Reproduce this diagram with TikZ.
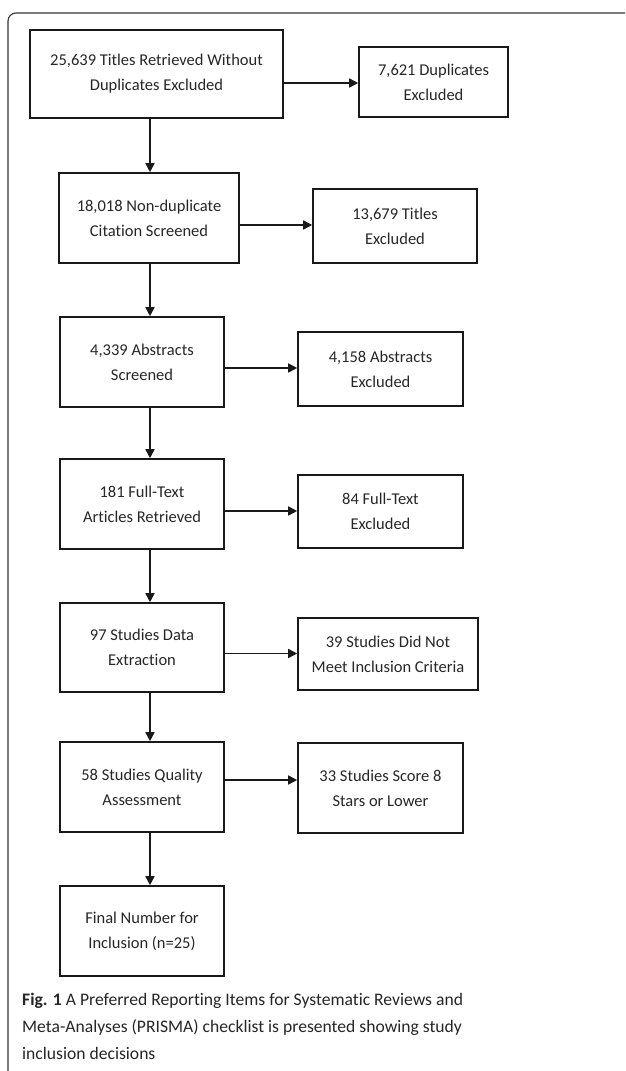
\documentclass[tikz,border=0pt]{standalone}
\usepackage{fontspec}
\setmainfont[Ligatures=NoCommon]{Carlito}
\usetikzlibrary{arrows.meta}
\begin{document}
\begin{tikzpicture}[x=1pt,y=-1pt,
  box/.style={draw=black!90,line width=1.6pt,inner sep=0pt,align=center,
    font=\fontsize{16.5}{25}\selectfont,text=black!85},
  arr/.style={line width=1.6pt,draw=black!90,-{Triangle[length=9pt,width=9pt]}},
  frame/.style={draw=black!80,line width=1.1pt,rounded corners=8pt}]
\useasboundingbox (0,0) rectangle (625,1071);
\draw[frame] (8,1071) -- (8,13) -- (625,13);
\coordinate (col) at (150,0);
\node[box,minimum width=253pt,minimum height=88pt] (b1) at (156.5,74) {25,639 Titles Retrieved Without\\Duplicates Excluded};
\node[box,minimum width=149pt,minimum height=70pt] (b2) at (433.5,82) {7,621 Duplicates\\Excluded};
\node[box,minimum width=180pt,minimum height=90pt] (b3) at (149,218) {18,018 Non-duplicate\\Citation Screened};
\node[box,minimum width=164pt,minimum height=74pt] (b4) at (395,226) {13,679 Titles\\Excluded};
\node[box,minimum width=164pt,minimum height=90pt] (b5) at (142,362) {4,339 Abstracts\\Screened};
\node[box,minimum width=165pt,minimum height=74pt] (b6) at (380.5,369) {4,158 Abstracts\\Excluded};
\node[box,minimum width=164pt,minimum height=90pt] (b7) at (142,504) {181 Full-Text\\Articles Retrieved};
\node[box,minimum width=165pt,minimum height=73pt] (b8) at (380.5,511.5) {84 Full-Text\\Excluded};
\node[box,minimum width=164pt,minimum height=89pt] (b9) at (142,647.5) {97 Studies Data\\Extraction};
\node[box,minimum width=180pt,minimum height=72pt] (b10) at (388,654) {39 Studies Did Not\\Meet Inclusion Criteria};
\node[box,minimum width=164pt,minimum height=90pt] (b11) at (142,787) {58 Studies Quality\\Assessment};
\node[box,minimum width=165pt,minimum height=90pt] (b12) at (380.5,788) {33 Studies Score 8\\Stars or Lower};
\node[box,minimum width=164pt,minimum height=90pt] (b13) at (142,931) {Final Number for\\Inclusion (n=25)};
% horizontal
\draw[arr] ([yshift=-9pt]b1.east) -- ([yshift=-9pt]b1.east -| b2.west);
\draw[arr] ([yshift=-7pt]b3.east) -- ([yshift=-7pt]b3.east -| b4.west);
\draw[arr] ([yshift=-6pt]b5.east) -- ([yshift=-6pt]b5.east -| b6.west);
\draw[arr] ([yshift=-7pt]b7.east) -- ([yshift=-7pt]b7.east -| b8.west);
\draw[arr] ([yshift=-6pt]b9.east) -- ([yshift=-6pt]b9.east -| b10.west);
\draw[arr] ([yshift=7pt]b11.east) -- ([yshift=7pt]b11.east -| b12.west);
% vertical
\draw[arr] (b1.south -| col) -- (b3.north -| col);
\draw[arr] (b3.south -| col) -- (b5.north -| col);
\draw[arr] (b5.south -| col) -- (b7.north -| col);
\draw[arr] (b7.south -| col) -- (b9.north -| col);
\draw[arr] (b9.south -| col) -- (b11.north -| col);
\draw[arr] (b11.south -| col) -- (b13.north -| col);
\node[anchor=north west,inner sep=0pt,align=left,text=black!85,
  font=\fontsize{17.6}{27}\selectfont] (cap) at (22,993)
  {\textbf{Fig. 1} A Preferred Reporting Items for Systematic Reviews and\\
   Meta-Analyses (PRISMA) checklist is presented showing study\\
   inclusion decisions};
\end{tikzpicture}
\end{document}
